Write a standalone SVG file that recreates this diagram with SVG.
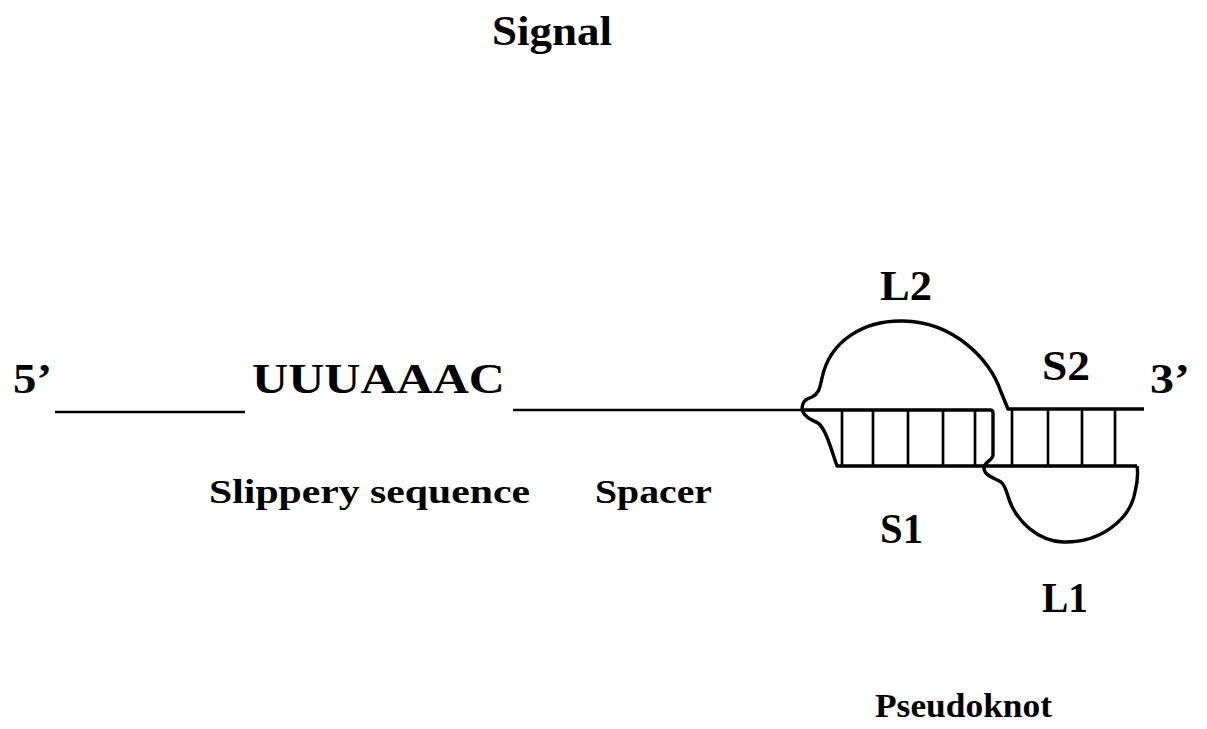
<svg xmlns="http://www.w3.org/2000/svg" width="1207" height="729" viewBox="0 0 1207 729">
  <style>
    .lbl { font-family: "Liberation Serif", "Times New Roman", serif; font-weight: bold; fill: #000; }
    .big { font-size: 42px; }
    .mid { font-size: 34px; }
    .strand { fill: none; stroke: #000; stroke-width: 3.4; stroke-linejoin: round; stroke-linecap: butt; }
    .thin { fill: none; stroke: #000; stroke-width: 2.5; }
    .rung { stroke: #000; stroke-width: 2.7; }
  </style>
  <rect width="1207" height="729" fill="#fff"/>

  <g id="title">
    <text class="lbl big" x="492" y="45" textLength="120" lengthAdjust="spacingAndGlyphs">Signal</text>
  </g>

  <g id="five-prime">
    <text class="lbl big" x="13" y="393" textLength="39" lengthAdjust="spacingAndGlyphs">5’</text>
  </g>

  <g id="slippery">
    <text class="lbl big" x="252" y="393" textLength="253" lengthAdjust="spacingAndGlyphs">UUUAAAC</text>
    <text class="lbl mid" x="209" y="503" textLength="321" lengthAdjust="spacingAndGlyphs">Slippery sequence</text>
  </g>

  <g id="spacer">
    <text class="lbl mid" x="595" y="503" textLength="117" lengthAdjust="spacingAndGlyphs">Spacer</text>
  </g>

  <g id="pseudoknot">
    <text class="lbl big" x="880" y="300" textLength="52" lengthAdjust="spacingAndGlyphs">L2</text>
    <text class="lbl big" x="1042" y="380" textLength="48" lengthAdjust="spacingAndGlyphs">S2</text>
    <text class="lbl big" x="880" y="543" textLength="43" lengthAdjust="spacingAndGlyphs">S1</text>
    <text class="lbl big" x="1042" y="612" textLength="46" lengthAdjust="spacingAndGlyphs">L1</text>
    <text class="lbl mid" x="875" y="717" textLength="177" lengthAdjust="spacingAndGlyphs">Pseudoknot</text>
  </g>

  <g id="three-prime">
    <text class="lbl big" x="1150" y="393" textLength="40" lengthAdjust="spacingAndGlyphs">3’</text>
  </g>

  <g id="connectors">
    <!-- 5' lead-in and spacer -->
    <line class="thin" x1="55" y1="412" x2="245" y2="412"/>
    <line class="thin" x1="513" y1="410" x2="803" y2="410"/>

    <!-- upper strand of stem S1, turning down into loop L1 -->
    <path class="strand" d="M 802,410 H 990 Q 993,410 993,413 V 455 C 993,460 984,462 984,468 C 984,476 995,478 1001,482 C 1006,486 1006,492 1010,502 C 1018,522 1038,541 1063,542 C 1100,543 1130,520 1135,492 C 1138,480 1138,472 1137,466"/>
    <!-- lower strand -->
    <path class="strand" d="M 802,410 C 805,418 812,420 818,423 C 825,428 830,445 837,466 H 1137"/>
    <!-- loop L2 into upper strand of stem S2 -->
    <path class="strand" d="M 802,410 C 802,401 806,399 812,397 C 820,393 820,386 822,378 C 830,340 865,320 903,321 C 955,322 990,360 1001,392 L 1008,409 H 1144"/>

    <!-- base-pair rungs -->
    <g class="rung">
      <line x1="842" y1="410" x2="842" y2="466"/>
      <line x1="873" y1="410" x2="873" y2="466"/>
      <line x1="908" y1="410" x2="908" y2="466"/>
      <line x1="943" y1="410" x2="943" y2="466"/>
      <line x1="975" y1="410" x2="975" y2="466"/>
      <line x1="1012" y1="409" x2="1012" y2="466"/>
      <line x1="1048" y1="409" x2="1048" y2="466"/>
      <line x1="1082" y1="409" x2="1082" y2="466"/>
      <line x1="1115" y1="409" x2="1115" y2="466"/>
    </g>
  </g>
</svg>
